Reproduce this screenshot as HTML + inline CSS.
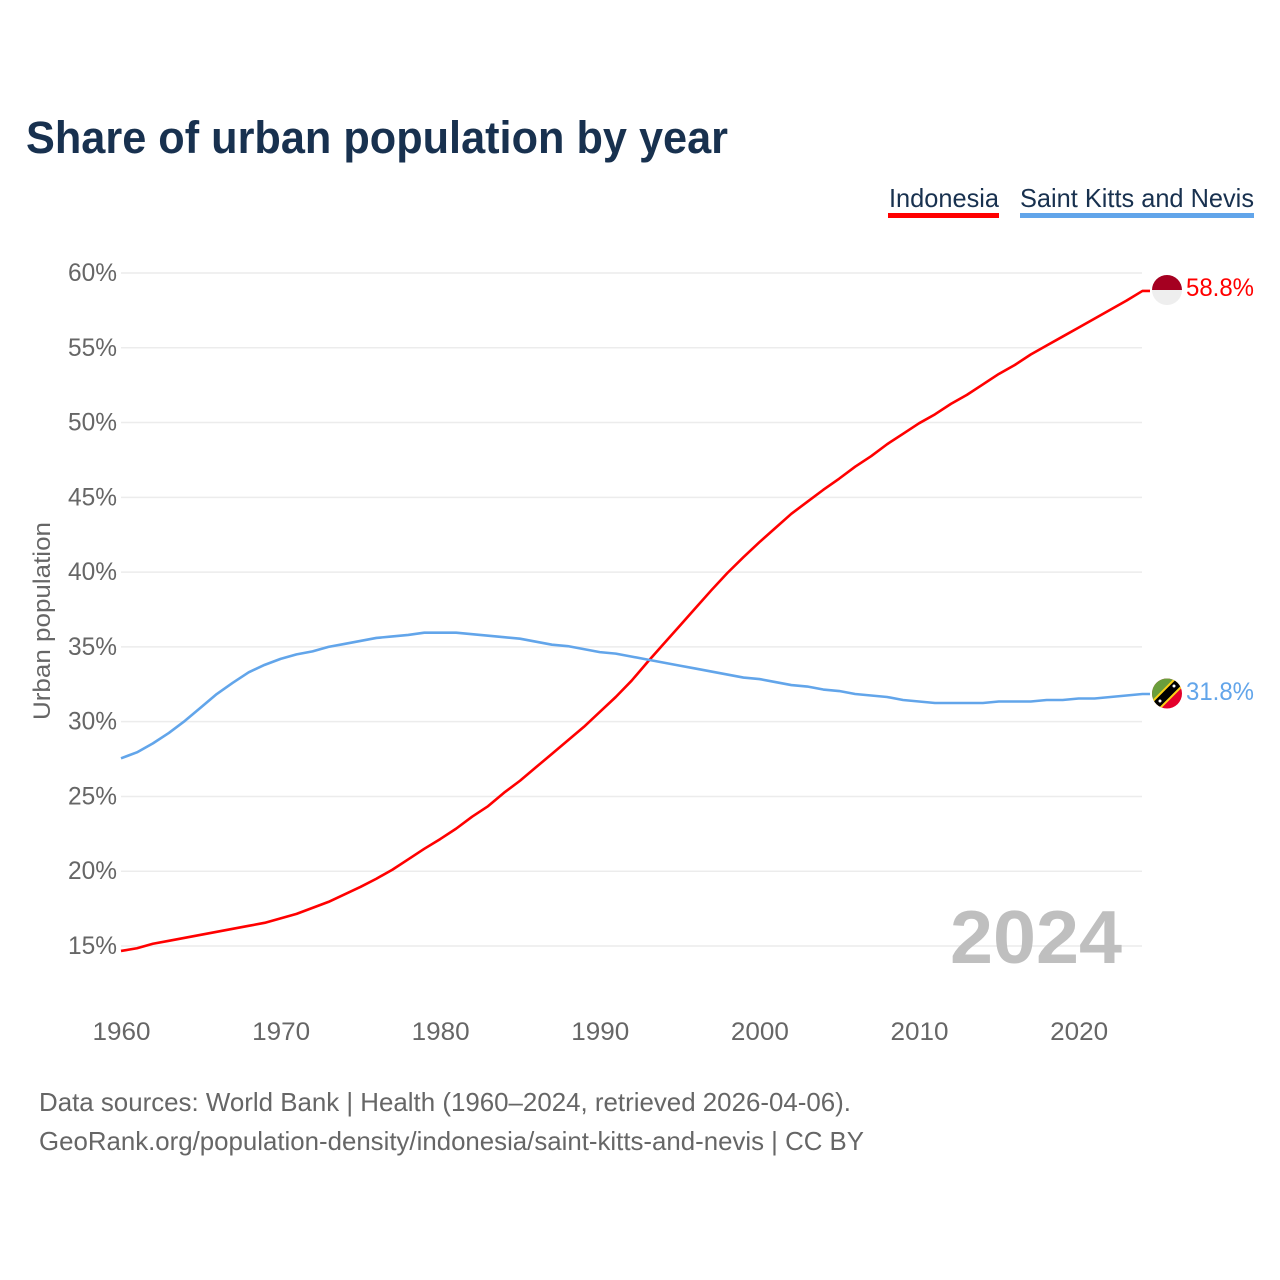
<!DOCTYPE html>
<html lang="en">
<head>
<meta charset="utf-8">
<title>Share of urban population by year</title>
<style>
html,body{margin:0;padding:0;background:#fff;width:1280px;height:1280px;overflow:hidden}
svg{display:block}
text{font-family:"Liberation Sans",sans-serif}
</style>
</head>
<body>
<svg id="chart" xmlns="http://www.w3.org/2000/svg" width="1280" height="1280" viewBox="0 0 1280 1280">
  <rect width="1280" height="1280" fill="#fff"/>
  <text x="26" y="153" font-size="45" font-weight="700" fill="#18314f" textLength="702" lengthAdjust="spacingAndGlyphs">Share of urban population by year</text>
  <g>
    <text x="889" y="207" font-size="26" fill="#18314f" textLength="110" lengthAdjust="spacingAndGlyphs">Indonesia</text>
    <rect x="888" y="213" width="111" height="5" fill="#ff0000"/>
  </g>
  <g>
    <text x="1020" y="207" font-size="26" fill="#18314f" textLength="234" lengthAdjust="spacingAndGlyphs">Saint Kitts and Nevis</text>
    <rect x="1020" y="213" width="234" height="5" fill="#62a5ea"/>
  </g>
  <g id="grid"></g>
  <g id="yticks"></g>
  <g id="xticks"></g>
  <text transform="translate(50,621) rotate(-90)" text-anchor="middle" font-size="24.5" fill="#666" textLength="198" lengthAdjust="spacingAndGlyphs">Urban population</text>
  <text x="1122" y="963" text-anchor="end" font-size="75" font-weight="700" fill="#bfbfbf" textLength="172" lengthAdjust="spacingAndGlyphs">2024</text>
  <g id="series"></g>
  <defs>
    <clipPath id="clip-id"><circle cx="1167" cy="290" r="15"/></clipPath>
    <clipPath id="clip-kn"><circle cx="1167" cy="693.5" r="15"/></clipPath>
  </defs>
  <g clip-path="url(#clip-id)">
    <rect x="1150" y="272" width="34" height="18" fill="#a50021"/>
    <rect x="1150" y="290" width="34" height="18" fill="#eeeeee"/>
  </g>
  <g clip-path="url(#clip-kn)">
    <rect x="1150" y="676" width="34" height="36" fill="#e4002b"/>
    <polygon points="1150,676 1184,676 1150,710" fill="#6a9e3c"/>
    <line x1="1153" y1="708" x2="1182" y2="679" stroke="#fcd116" stroke-width="12"/>
    <line x1="1153" y1="708" x2="1182" y2="679" stroke="#000" stroke-width="8"/>
    <circle cx="1160" cy="701" r="1.5" fill="#fff"/>
    <circle cx="1174" cy="686" r="1.5" fill="#fff"/>
  </g>
  <text x="1186" y="296" font-size="25" fill="#ff0000" textLength="68" lengthAdjust="spacingAndGlyphs">58.8%</text>
  <text x="1186" y="700" font-size="25" fill="#62a5ea" textLength="68" lengthAdjust="spacingAndGlyphs">31.8%</text>
  <text x="39" y="1111" font-size="26" fill="#666" textLength="812" lengthAdjust="spacingAndGlyphs">Data sources: World Bank | Health (1960–2024, retrieved 2026-04-06).</text>
  <text x="39" y="1150" font-size="26" fill="#666" textLength="825" lengthAdjust="spacingAndGlyphs">GeoRank.org/population-density/indonesia/saint-kitts-and-nevis | CC BY</text>
</svg>
<script>
const years = [1960,1961,1962,1963,1964,1965,1966,1967,1968,1969,1970,1971,1972,1973,1974,1975,1976,1977,1978,1979,1980,1981,1982,1983,1984,1985,1986,1987,1988,1989,1990,1991,1992,1993,1994,1995,1996,1997,1998,1999,2000,2001,2002,2003,2004,2005,2006,2007,2008,2009,2010,2011,2012,2013,2014,2015,2016,2017,2018,2019,2020,2021,2022,2023,2024];
const indonesia = [14.67,14.85,15.15,15.35,15.55,15.75,15.95,16.15,16.35,16.55,16.85,17.15,17.55,17.95,18.45,18.95,19.5,20.1,20.8,21.5,22.15,22.85,23.65,24.35,25.25,26.05,26.95,27.85,28.75,29.65,30.65,31.65,32.75,34.0,35.2,36.4,37.6,38.8,39.95,41.0,42.0,42.95,43.9,44.7,45.5,46.25,47.05,47.75,48.55,49.25,49.95,50.55,51.25,51.85,52.55,53.25,53.85,54.55,55.15,55.75,56.35,56.95,57.55,58.15,58.8];
const saintKitts = [27.55,27.95,28.55,29.25,30.05,30.95,31.85,32.6,33.3,33.8,34.2,34.5,34.7,35.0,35.2,35.4,35.6,35.7,35.8,35.95,35.95,35.95,35.85,35.75,35.65,35.55,35.35,35.15,35.05,34.85,34.65,34.55,34.35,34.15,33.95,33.75,33.55,33.35,33.15,32.95,32.85,32.65,32.45,32.35,32.15,32.05,31.85,31.75,31.65,31.45,31.35,31.25,31.25,31.25,31.25,31.35,31.35,31.35,31.45,31.45,31.55,31.55,31.65,31.75,31.85];
const yTickValues = [15,20,25,30,35,40,45,50,55,60];
const xTickValues = [1960,1970,1980,1990,2000,2010,2020];

const NS = 'http://www.w3.org/2000/svg';
const xScale = function (year) { return 121 + (year - 1960) * 15.96; };
const yScale = function (value) { return 273 + (60 - value) * 14.956; };

function make(tag, attrs, parent) {
  const el = document.createElementNS(NS, tag);
  Object.keys(attrs).forEach(function (k) { el.setAttribute(k, attrs[k]); });
  parent.appendChild(el);
  return el;
}

const gridGroup = document.getElementById('grid');
const yGroup = document.getElementById('yticks');
const xGroup = document.getElementById('xticks');
const seriesGroup = document.getElementById('series');

yTickValues.forEach(function (v) {
  const line = make('line', {x1: 121, x2: 1142, y1: yScale(v), y2: yScale(v), stroke: '#ececec', 'stroke-width': 1.5}, gridGroup);
  
  
  const t = make('text', {x: 117, y: yScale(v) + 8, 'text-anchor': 'end', 'font-size': 25, fill: '#666', textLength: 49, lengthAdjust: 'spacingAndGlyphs'}, yGroup);
  t.textContent = v + '%';
  
  
});

xTickValues.forEach(function (y) {
  const t = make('text', {x: xScale(y) + 0.5, y: 1040, 'text-anchor': 'middle', 'font-size': 25, fill: '#666', textLength: 58, lengthAdjust: 'spacingAndGlyphs'}, xGroup);
  t.textContent = y;
  
  
});

function drawSeries(values, color) {
  let d = '';
  values.forEach(function (v, i) {
    d += (i ? 'L' : 'M') + xScale(years[i]).toFixed(2) + ' ' + yScale(v).toFixed(2);
  });
  d += 'H1150';
  const path = make('path', {d: d, fill: 'none', stroke: color, 'stroke-width': 2.6, 'stroke-linejoin': 'round'}, seriesGroup);
  return path;
}

const lineIndonesia = drawSeries(indonesia, '#ff0000');


const lineSaintKitts = drawSeries(saintKitts, '#62a5ea');


</script>
</body>
</html>
